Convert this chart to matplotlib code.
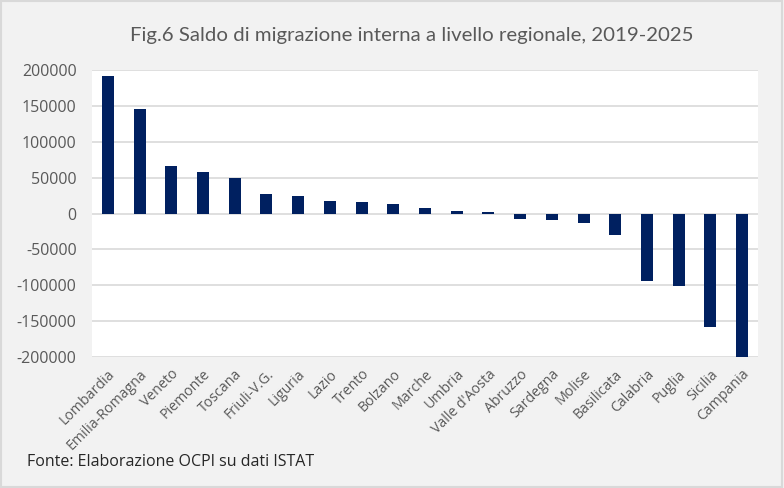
import matplotlib
matplotlib.use("Agg")
import matplotlib.pyplot as plt
from matplotlib.patches import Rectangle

regioni = ["Lombardia", "Emilia-Romagna", "Veneto", "Piemonte", "Toscana",
           "Friuli-V.G.", "Liguria", "Lazio", "Trento", "Bolzano", "Marche",
           "Umbria", "Valle d'Aosta", "Abruzzo", "Sardegna", "Molise",
           "Basilicata", "Calabria", "Puglia", "Sicilia", "Campania"]
saldo = [191600, 145100, 66000, 57700, 49300,
         27000, 24200, 17200, 15800, 13000, 7400,
         3300, 1900, -7000, -8400, -12600,
         -29300, -93500, -100500, -157700, -201000]
yticks = [-200000, -150000, -100000, -50000, 0, 50000, 100000, 150000, 200000]

bg = "#f2f2f2"
grid = "#d9d9d9"
txt = "#595959"

fig = plt.figure(figsize=(7.84, 4.88), dpi=100, facecolor=bg)
ax = fig.add_axes([0.1173, 0.2684, 0.8495, 0.5882])
ax.set_facecolor("white")

x = range(len(regioni))
ax.bar(x, saldo, width=0.38, color="#002060", zorder=3)

ax.set_ylim(-200000, 200000)
ax.set_xlim(-0.5, len(regioni) - 0.5)
ax.set_yticks(yticks)
ax.set_yticklabels([str(v) for v in yticks], fontsize=11.5, color=txt,
                   family="Open Sans")
ax.set_xticks(list(x))
ax.set_xticklabels(regioni, rotation=45, ha="right", rotation_mode="anchor",
                   fontsize=10.2, color=txt, family="Open Sans")
ax.tick_params(length=0)
ax.tick_params(axis="y", pad=11)
ax.tick_params(axis="x", pad=7)
ax.grid(axis="y", color=grid, linewidth=1.2, zorder=0)
for s in ax.spines.values():
    s.set_visible(False)

fig.text(0.525, 0.928, "Fig.6 Saldo di migrazione interna a livello regionale, 2019-2025",
         ha="center", va="center", fontsize=14.7, color=txt, family="Lato")
fig.text(0.035, 0.053, "Fonte: Elaborazione OCPI su dati ISTAT",
         ha="left", va="center", fontsize=11.5, color="#262626", family="Open Sans")

fig.patches.append(Rectangle((0.001, 0.002), 0.997, 0.996, transform=fig.transFigure,
                             fill=False, edgecolor=grid, linewidth=1.5))

fig.savefig("out.png", dpi=100, facecolor=bg)
